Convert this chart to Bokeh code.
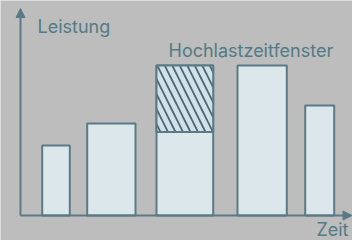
from bokeh.plotting import figure
from bokeh.models import Range1d, Label, Arrow, NormalHead
from bokeh.embed import file_html
from bokeh.resources import INLINE

# data (time in arbitrary units, power in arbitrary units)
starts = [2.17, 6.67, 13.6, 21.7, 28.47]
ends = [4.93, 11.5, 19.27, 26.63, 31.37]
power = [3.5, 4.6, 7.5, 7.5, 5.5]
peak_start = [13.6]
peak_end = [19.27]
peak_low = [4.17]
peak_high = [7.5]
y_label = "Leistung"
x_label = "Zeit"
window_label = "Hochlastzeitfenster"

BG = "#bdbdbd"
LINE = "#5b7a85"
TXT = "#527b86"
FILL = "#dce7eb"

p = figure(width=352, height=240, output_backend="svg", toolbar_location=None,
           x_range=Range1d(-2.0, 33.2), y_range=Range1d(-1.25, 10.75),
           min_border=0, background_fill_color=BG, border_fill_color=BG,
           outline_line_color=None)
p.axis.visible = False
p.grid.visible = False

p.quad(left=starts, right=ends, bottom=0, top=power, fill_color=FILL,
       line_color=LINE, line_width=2)
p.quad(left=peak_start, right=peak_end, bottom=peak_low, top=peak_high,
       fill_color="#d0e1e7", line_color=LINE, line_width=2,
       hatch_pattern="\\", hatch_color="#4a6873", hatch_weight=1.8, hatch_scale=15)

p.add_layout(Arrow(end=NormalHead(size=9, fill_color=LINE, line_color=LINE),
                   x_start=0, y_start=0, x_end=0, y_end=10.35,
                   line_color=LINE, line_width=2))
p.add_layout(Arrow(end=NormalHead(size=9, fill_color=LINE, line_color=LINE),
                   x_start=0, y_start=0, x_end=33.15, y_end=0,
                   line_color=LINE, line_width=2))

for txt, x, y, align in [(y_label, 1.7, 9.45, "left"), (window_label, 14.8, 8.25, "left"),
                         (x_label, 32.8, -0.72, "right")]:
    p.add_layout(Label(x=x, y=y, text=txt, text_font="Inter", text_font_size="18px",
                       text_color=TXT, text_baseline="alphabetic", text_align=align))

html = file_html(p, INLINE)
html = html.replace("<body>", '<body style="background:%s">' % BG, 1)
open("out.html", "w").write(html)
